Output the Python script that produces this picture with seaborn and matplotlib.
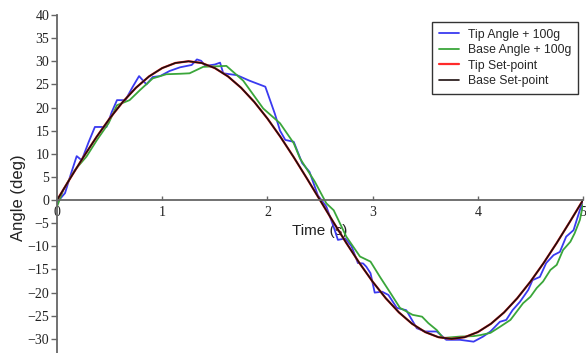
import matplotlib
matplotlib.use("Agg")
import matplotlib.pyplot as plt
import seaborn as sns
import pandas as pd

# ---------------- data ----------------
tip_t = [0.0, 0.076, 0.13, 0.187, 0.235, 0.30, 0.36, 0.47, 0.52, 0.57, 0.65, 0.72,
         0.78, 0.85, 0.91, 0.98, 1.07, 1.17, 1.28, 1.33, 1.37, 1.41, 1.50, 1.55,
         1.58, 1.71, 1.83, 1.98, 2.07, 2.12, 2.17, 2.25, 2.33, 2.40, 2.48, 2.56,
         2.63, 2.67, 2.74, 2.80, 2.86, 2.91, 2.94, 2.98, 3.02, 3.09, 3.15, 3.23,
         3.32, 3.42, 3.50, 3.61, 3.70, 3.83, 3.96, 4.05, 4.12, 4.21, 4.27, 4.33,
         4.40, 4.48, 4.52, 4.59, 4.65, 4.72, 4.78, 4.84, 4.91, 4.95, 5.0]
tip_angle = [-0.5, 1.5, 5.5, 9.5, 8.6, 12.5, 15.8, 15.8, 19.0, 21.6, 21.6, 24.5,
             26.8, 25.0, 26.6, 26.8, 27.9, 28.7, 29.2, 30.4, 30.1, 29.0, 29.3, 29.7,
             27.4, 27.0, 25.8, 24.5, 18.7, 15.0, 13.0, 12.6, 8.0, 6.1, 1.0, -1.4,
             -5.8, -8.6, -8.3, -10.0, -13.6, -13.7, -14.4, -15.8, -20.0, -19.8, -20.5, -23.3,
             -23.8, -27.7, -28.4, -28.4, -30.2, -30.2, -30.6, -29.5, -28.4, -26.3, -25.9, -23.8,
             -22.0, -19.4, -17.3, -16.6, -13.6, -11.9, -11.2, -7.9, -6.5, -3.6, 0.0]

base_t = [0.0, 0.06, 0.17, 0.28, 0.38, 0.49, 0.57, 0.69, 0.79, 0.91, 1.04, 1.17,
          1.26, 1.39, 1.61, 1.77, 1.96, 2.12, 2.25, 2.31, 2.45, 2.56, 2.63, 2.75,
          2.88, 2.98, 3.07, 3.17, 3.26, 3.38, 3.47, 3.53, 3.61, 3.67, 3.83, 3.96,
          4.02, 4.12, 4.21, 4.31, 4.37, 4.43, 4.50, 4.56, 4.62, 4.69, 4.75, 4.81,
          4.88, 4.92, 4.97, 5.0]
base_angle = [-1.4, 2.2, 6.5, 9.4, 13.0, 16.6, 20.5, 21.6, 23.8, 26.3, 27.2, 27.3,
              27.4, 28.8, 29.0, 25.8, 19.8, 16.6, 12.3, 9.0, 4.0, -0.7, -2.2, -7.9,
              -12.2, -13.3, -16.6, -20.1, -23.3, -24.8, -25.2, -26.6, -28.1, -29.8, -29.5, -29.4,
              -29.2, -28.7, -27.4, -25.9, -24.1, -22.3, -20.9, -19.0, -17.6, -15.1, -14.0, -10.8,
              -9.0, -7.2, -4.3, -1.0]

sp_t = [0.0, 0.125, 0.25, 0.375, 0.5, 0.625, 0.75, 0.875, 1.0, 1.125, 1.25, 1.375,
        1.5, 1.625, 1.75, 1.875, 2.0, 2.125, 2.25, 2.375, 2.5, 2.625, 2.75, 2.875,
        3.0, 3.125, 3.25, 3.375, 3.5, 3.625, 3.75, 3.875, 4.0, 4.125, 4.25, 4.375,
        4.5, 4.625, 4.75, 4.875, 5.0]
tip_setpoint = [0.0, 4.69, 9.27, 13.62, 17.63, 21.21, 24.27, 26.73, 28.53, 29.63, 30.0, 29.63,
                28.53, 26.73, 24.27, 21.21, 17.63, 13.62, 9.27, 4.69, 0.0, -4.69, -9.27, -13.62,
                -17.63, -21.21, -24.27, -26.73, -28.53, -29.63, -30.0, -29.63, -28.53, -26.73, -24.27, -21.21,
                -17.63, -13.62, -9.27, -4.69, 0.0]
base_setpoint = [0.0, 4.69, 9.27, 13.62, 17.63, 21.21, 24.27, 26.73, 28.53, 29.63, 30.0, 29.63,
                 28.53, 26.73, 24.27, 21.21, 17.63, 13.62, 9.27, 4.69, 0.0, -4.69, -9.27, -13.62,
                 -17.63, -21.21, -24.27, -26.73, -28.53, -29.63, -30.0, -29.63, -28.53, -26.73, -24.27, -21.21,
                 -17.63, -13.62, -9.27, -4.69, 0.0]

labels = ["Tip Angle + 100g", "Base Angle + 100g", "Tip Set-point", "Base Set-point"]
x_ticks = [0, 1, 2, 3, 4, 5]
y_ticks = list(range(-30, 45, 5))

# ---------------- plot ----------------
sns.set_style("white")
plt.rcParams["font.family"] = ["Liberation Sans", "DejaVu Sans"]

fig = plt.figure(figsize=(5.86, 3.53), dpi=100)
ax = fig.add_axes([0.0973, 0.0, 0.8976, 0.9575])

series = [
    (tip_t, tip_angle, "#3a3af0", 1.3),
    (base_t, base_angle, "#3aa63a", 1.3),
    (sp_t, tip_setpoint, "#ff2a2a", 1.6),
    (sp_t, base_setpoint, "#1e0f0f", 1.2),
]
for (t, v, c, lw), lab in zip(series, labels):
    df = pd.DataFrame({"t": t, "v": v})
    sns.lineplot(data=df, x="t", y="v", ax=ax, color=c, lw=lw, label=lab,
                 sort=False, estimator=None)

ax.set_xlim(0, 5)
ax.set_ylim(-33.05, 40)

for s in ["top", "right"]:
    ax.spines[s].set_visible(False)
ax.spines["bottom"].set_position(("data", 0))
for s in ["left", "bottom"]:
    ax.spines[s].set_color("#666666")
    ax.spines[s].set_linewidth(1.3)

ax.set_xticks(x_ticks)
ax.set_yticks(y_ticks)
ax.set_yticklabels([str(v).replace("-", "\u2212") for v in y_ticks])
ax.set_xticklabels([str(v) for v in x_ticks])
ax.tick_params(axis="y", direction="out", length=4, width=1, color="#666666",
               pad=1.5, labelsize=10, left=True)
ax.tick_params(axis="x", direction="in", length=3, width=1, color="#666666",
               pad=4, labelsize=10, bottom=True)
for lbl in ax.get_xticklabels() + ax.get_yticklabels():
    lbl.set_family(["Liberation Serif", "DejaVu Serif"])
    lbl.set_color("#222222")

ax.set_xlabel("Time (s)", fontsize=11, va="center", color="#222222")
ax.xaxis.set_label_coords(0.5, 0.361)
ax.set_ylabel("Angle (deg)", fontsize=12, va="center", color="#222222")
ax.yaxis.set_label_coords(-0.074, 0.46)

leg = ax.legend(loc="upper right", bbox_to_anchor=(578 / 586, (353 - 22) / 353),
                bbox_transform=fig.transFigure, borderaxespad=0, fontsize=8.8,
                frameon=True, fancybox=False, framealpha=1, edgecolor="#333333",
                handlelength=1.65, handletextpad=0.7, labelspacing=0.28,
                borderpad=0.55)
leg.get_frame().set_linewidth(1.0)

fig.savefig("out.png", dpi=100)
